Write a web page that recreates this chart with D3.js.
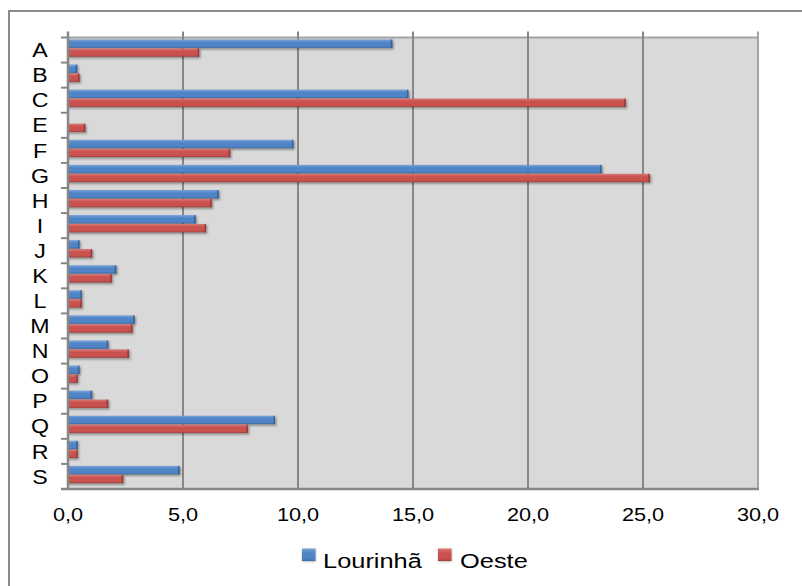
<!DOCTYPE html>
<html><head><meta charset="utf-8">
<script src="https://cdn.jsdelivr.net/npm/d3@7"></script>
<style>html,body{margin:0;padding:0;background:#fff;}svg{display:block;font-family:"Liberation Sans",Arial,sans-serif;}</style>
</head><body>
<svg id="c" width="802" height="586"></svg>
<script>
const categories = ["A","B","C","E","F","G","H","I","J","K","L","M","N","O","P","Q","R","S"];
const seriesNames = ["Lourinhã","Oeste"];
const lourinha = [14.1,0.4,14.8,0,9.8,23.2,6.55,5.55,0.5,2.1,0.6,2.9,1.75,0.5,1.05,9.0,0.42,4.85];
const oeste    = [5.7,0.5,24.25,0.75,7.05,25.3,6.25,6.0,1.05,1.9,0.6,2.8,2.65,0.42,1.75,7.82,0.42,2.4];
const xTicks = [0,5,10,15,20,25,30];
const tickLabels = ["0,0","5,0","10,0","15,0","20,0","25,0","30,0"];

const svg = d3.select("#c");
const defs = svg.append("defs");
const grads = [["#7aa4da","#4f84c6","#3b69a6"],["#dc7775","#c9524f","#a53c39"]];
grads.forEach((g,i)=>{
  const lg = defs.append("linearGradient").attr("id","g"+i).attr("x1",0).attr("y1",0).attr("x2",0).attr("y2",1);
  lg.append("stop").attr("offset","0%").attr("stop-color",g[0]);
  lg.append("stop").attr("offset","35%").attr("stop-color",g[1]);
  lg.append("stop").attr("offset","80%").attr("stop-color",g[1]);
  lg.append("stop").attr("offset","100%").attr("stop-color",g[2]);
});
defs.append("filter").attr("id","blur").attr("x","-20%").attr("y","-50%").attr("width","140%").attr("height","200%")
  .append("feGaussianBlur").attr("stdDeviation",0.8);

// outer frame
svg.append("rect").attr("x",9).attr("y",11).attr("width",820).attr("height",620)
  .attr("fill","#fff").attr("stroke","#8a8a8a").attr("stroke-width",2);

const pL=68, pR=758, pT=37.5, pB=489;
const x = d3.scaleLinear().domain([0,30]).range([pL,pR]);
const y = d3.scaleBand().domain(categories).range([pT,pB]).padding(0);
const ySub = d3.scaleBand().domain(seriesNames).range([2,19.8]).padding(0);

// plot area
svg.append("rect").attr("x",pL).attr("y",pT).attr("width",pR-pL).attr("height",pB-pT).attr("fill","#D9D9D9");
svg.append("line").attr("x1",pL).attr("x2",pR).attr("y1",pT).attr("y2",pT).attr("stroke","#a3a3a3").attr("stroke-width",2);

// gridlines
svg.selectAll("line.grid").data(xTicks.slice(1)).join("line").attr("class","grid")
  .attr("x1",d=>x(d)).attr("x2",d=>x(d)).attr("y1",31.5).attr("y2",pB)
  .attr("stroke",d=>d===30?"#a3a3a3":"#878787").attr("stroke-width",2);

// bars
const data = [];
categories.forEach((c,i)=>{
  data.push({c, s:seriesNames[0], v:lourinha[i], k:0});
  data.push({c, s:seriesNames[1], v:oeste[i], k:1});
});
const bars = data.filter(d=>d.v>0);
svg.selectAll("rect.sh").data(bars).join("rect").attr("class","sh")
  .attr("x",x(0)).attr("y",d=>y(d.c)+ySub(d.s)+1.2)
  .attr("width",d=>x(d.v)-x(0)+1.5).attr("height",ySub.bandwidth())
  .attr("fill","rgba(0,0,0,0.35)").attr("filter","url(#blur)");
svg.selectAll("rect.bar").data(bars).join("rect").attr("class","bar")
  .attr("x",x(0)).attr("y",d=>y(d.c)+ySub(d.s))
  .attr("width",d=>x(d.v)-x(0)).attr("height",ySub.bandwidth()-0.6)
  .attr("fill",d=>"url(#g"+d.k+")");
svg.selectAll("rect.end").data(bars).join("rect").attr("class","end")
  .attr("x",d=>x(d.v)-1.5).attr("y",d=>y(d.c)+ySub(d.s))
  .attr("width",1.5).attr("height",ySub.bandwidth()-0.6)
  .attr("fill",d=>d.k===0?"#2f5a90":"#8e3230").attr("opacity",0.8);

// axes lines
svg.append("line").attr("x1",pL).attr("x2",pL).attr("y1",31.5).attr("y2",pB+1)
  .attr("stroke","#878787").attr("stroke-width",2.5);
svg.append("line").attr("x1",61).attr("x2",pR+1).attr("y1",pB).attr("y2",pB)
  .attr("stroke","#878787").attr("stroke-width",2.5);
const bounds = categories.map(c=>y(c)).concat([pB]);
svg.selectAll("line.ct").data(bounds).join("line").attr("class","ct")
  .attr("x1",61).attr("x2",pL).attr("y1",d=>d).attr("y2",d=>d)
  .attr("stroke","#878787").attr("stroke-width",2);

// category labels
svg.selectAll("text.cat").data(categories).join("text").attr("class","cat")
  .attr("transform",d=>`translate(40,${y(d)+y.bandwidth()/2+7.2}) scale(1.16,1)`)
  .attr("text-anchor","middle").attr("font-size",20).attr("fill","#000").text(d=>d);

// x tick labels
svg.selectAll("text.xt").data(xTicks).join("text").attr("class","xt")
  .attr("transform",d=>`translate(${x(d)},520.5) scale(1.24,1)`)
  .attr("text-anchor","middle").attr("font-size",17.5).attr("fill","#000").text((d,i)=>tickLabels[i]);

// legend
const leg = [{n:seriesNames[0],sx:302,tx:323},{n:seriesNames[1],sx:438,tx:460}];
leg.forEach((l,i)=>{
  svg.append("rect").attr("x",l.sx).attr("y",549).attr("width",14).attr("height",13).attr("fill","rgba(0,0,0,0.25)").attr("filter","url(#blur)");
  svg.append("rect").attr("x",l.sx).attr("y",548.5).attr("width",13.5).attr("height",12.5).attr("fill","url(#g"+i+")");
  svg.append("text").attr("transform",`translate(${l.tx},567.5) scale(1.27,1)`)
    .attr("font-size",20).attr("fill","#000").text(l.n);
});
</script>
</body></html>
